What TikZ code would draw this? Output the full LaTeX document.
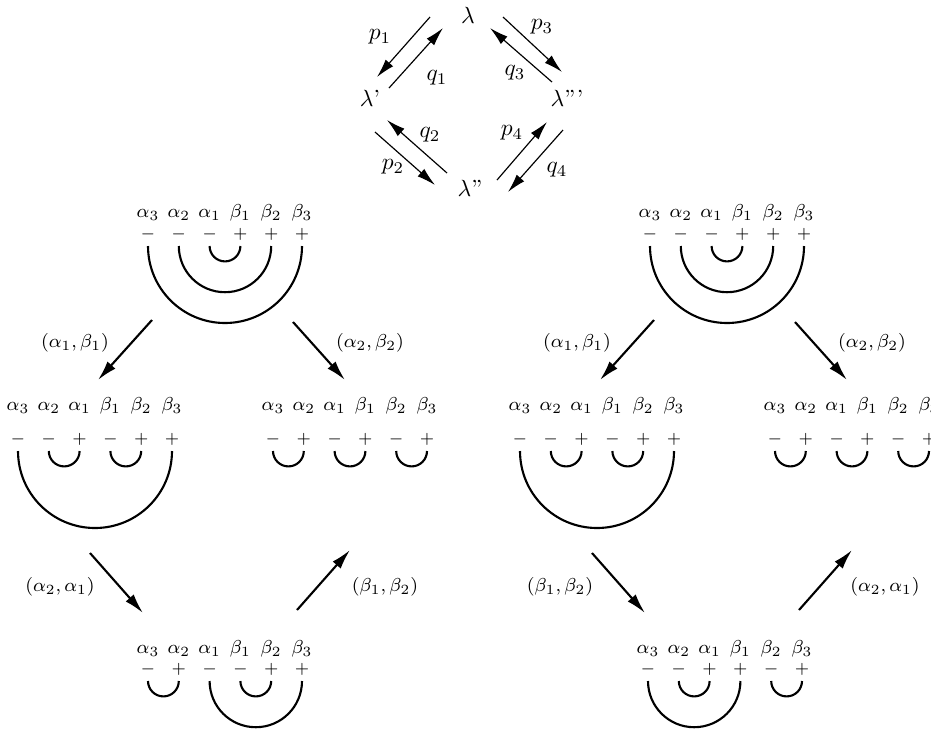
\documentclass[tikz,border=0pt]{standalone}
\usepackage{amsmath}
\usetikzlibrary{arrows.meta,calc}

% one row of labels with its signs
\newcommand{\chainrow}[5]{%
  \foreach \lab [count=\i] in {\alpha_3,\alpha_2,\alpha_1,\beta_1,\beta_2,\beta_3}
    \node[lbl] (#1l\i) at ({#2+30.8*(\i-1)},-#3) {$\lab$};
  \foreach \s [count=\i] in {#5}
    \node[sgn] (#1s\i) at ({#2+30.8*(\i-1)},-#4) {$\s$};
}
% cup between two signs of a row
\newcommand{\pairarc}[3]{%
  \draw[cupline] (#1s#2.center) ++(0,-13)
    arc[start angle=180,end angle=360,radius={15.4*(#3-#2)}];
}

\begin{document}
\begin{tikzpicture}[
    x=0.015cm, y=0.015cm,
    lbl/.style={inner sep=0pt, font=\footnotesize, text height=1.3ex, text depth=.2ex},
    sgn/.style={inner sep=0pt, font=\scriptsize, text height=1.1ex, text depth=.1ex},
    cupline/.style={line width=0.9pt},
    move/.style={line width=0.9pt, -{Latex[length=3mm,width=1.6mm]}},
    swap/.style={line width=0.5pt, -{Latex[length=2.8mm,width=1.5mm]}},
    tag/.style={font=\footnotesize},
    vtx/.style={font=\normalsize}
]
    \useasboundingbox (0,0) rectangle (931,-733);

    % the diamond
    \node[vtx] (l0) at (468,-15) {$\lambda$};
    \node[vtx] (l1) at (370,-98) {$\lambda$'};
    \node[vtx] (l2) at (470,-188) {$\lambda$''};
    \node[vtx] (l3) at (567,-98) {$\lambda$'''};

    \draw[swap] ([shift={(-38,-2)}]l0.center) -- ([shift={(7,21)}]l1.center);
    \draw[swap] ([shift={(19,10)}]l1.center) -- ([shift={(-25,-13)}]l0.center);
    \draw[swap] ([shift={(35,-2)}]l0.center) -- ([shift={(-5,26)}]l3.center);
    \draw[swap] ([shift={(-15,16)}]l3.center) -- ([shift={(22,-13)}]l0.center);
    \draw[swap] ([shift={(-23,15)}]l2.center) -- ([shift={(17,-22)}]l1.center);
    \draw[swap] ([shift={(5,-34)}]l1.center) -- ([shift={(-35,3)}]l2.center);
    \draw[swap] ([shift={(27,8)}]l2.center) -- ([shift={(-20,-24)}]l3.center);
    \draw[swap] ([shift={(-4,-32)}]l3.center) -- ([shift={(38,-4)}]l2.center);

    \node[vtx] (p1) at (380,-37) {$p_1$};
    \node[vtx] (q1) at (437,-78) {$q_1$};
    \node[vtx] (q2) at (430,-135) {$q_2$};
    \node[vtx] (p2) at (393,-167) {$p_2$};
    \node[vtx] (p3) at (542,-27) {$p_3$};
    \node[vtx] (q3) at (515,-73) {$q_3$};
    \node[vtx] (p4) at (512,-133) {$p_4$};
    \node[vtx] (q4) at (557,-170) {$q_4$};

    % left half
    \chainrow{T}{148}{212}{233}{-,-,-,+,+,+}
    \pairarc{T}{3}{4} \pairarc{T}{2}{5} \pairarc{T}{1}{6}
    \chainrow{A}{18}{405}{438}{-,-,+,-,+,+}
    \pairarc{A}{2}{3} \pairarc{A}{4}{5} \pairarc{A}{1}{6}
    \chainrow{B}{273}{405}{438}{-,+,-,+,-,+}
    \pairarc{B}{1}{2} \pairarc{B}{3}{4} \pairarc{B}{5}{6}
    \chainrow{C}{148}{648}{668}{-,+,-,-,+,+}
    \pairarc{C}{1}{2} \pairarc{C}{4}{5} \pairarc{C}{3}{6}

    % right half
    \chainrow{U}{650}{212}{233}{-,-,-,+,+,+}
    \pairarc{U}{3}{4} \pairarc{U}{2}{5} \pairarc{U}{1}{6}
    \chainrow{D}{520}{405}{438}{-,-,+,-,+,+}
    \pairarc{D}{2}{3} \pairarc{D}{4}{5} \pairarc{D}{1}{6}
    \chainrow{E}{775}{405}{438}{-,+,-,+,-,+}
    \pairarc{E}{1}{2} \pairarc{E}{3}{4} \pairarc{E}{5}{6}
    \chainrow{F}{648}{648}{668}{-,-,+,+,-,+}
    \pairarc{F}{2}{3} \pairarc{F}{1}{4} \pairarc{F}{5}{6}

    % moves
    \coordinate (m1a) at (152,-320); \coordinate (m1b) at (98,-380);
    \coordinate (m2a) at (293,-322); \coordinate (m2b) at (345,-380);
    \coordinate (m3a) at (90,-553);  \coordinate (m3b) at (143,-613);
    \coordinate (m4a) at (297,-610); \coordinate (m4b) at (350,-550);
    \coordinate (m5a) at (654,-320); \coordinate (m5b) at (600,-380);
    \coordinate (m6a) at (795,-322); \coordinate (m6b) at (847,-380);
    \coordinate (m7a) at (592,-553); \coordinate (m7b) at (645,-613);
    \coordinate (m8a) at (799,-610); \coordinate (m8b) at (852,-550);

    \draw[move] (m1a) -- (m1b); \draw[move] (m2a) -- (m2b);
    \draw[move] (m3a) -- (m3b); \draw[move] (m4a) -- (m4b);
    \draw[move] (m5a) -- (m5b); \draw[move] (m6a) -- (m6b);
    \draw[move] (m7a) -- (m7b); \draw[move] (m8a) -- (m8b);

    \node[tag] (t1) at (75,-343) {$(\alpha_1,\beta_1)$};
    \node[tag] (t2) at (370,-343) {$(\alpha_2,\beta_2)$};
    \node[tag] (t3) at (60,-587) {$(\alpha_2,\alpha_1)$};
    \node[tag] (t4) at (385,-587) {$(\beta_1,\beta_2)$};
    \node[tag] (t5) at (577,-343) {$(\alpha_1,\beta_1)$};
    \node[tag] (t6) at (872,-343) {$(\alpha_2,\beta_2)$};
    \node[tag] (t7) at (560,-587) {$(\beta_1,\beta_2)$};
    \node[tag] (t8) at (885,-587) {$(\alpha_2,\alpha_1)$};
\end{tikzpicture}
\end{document}
